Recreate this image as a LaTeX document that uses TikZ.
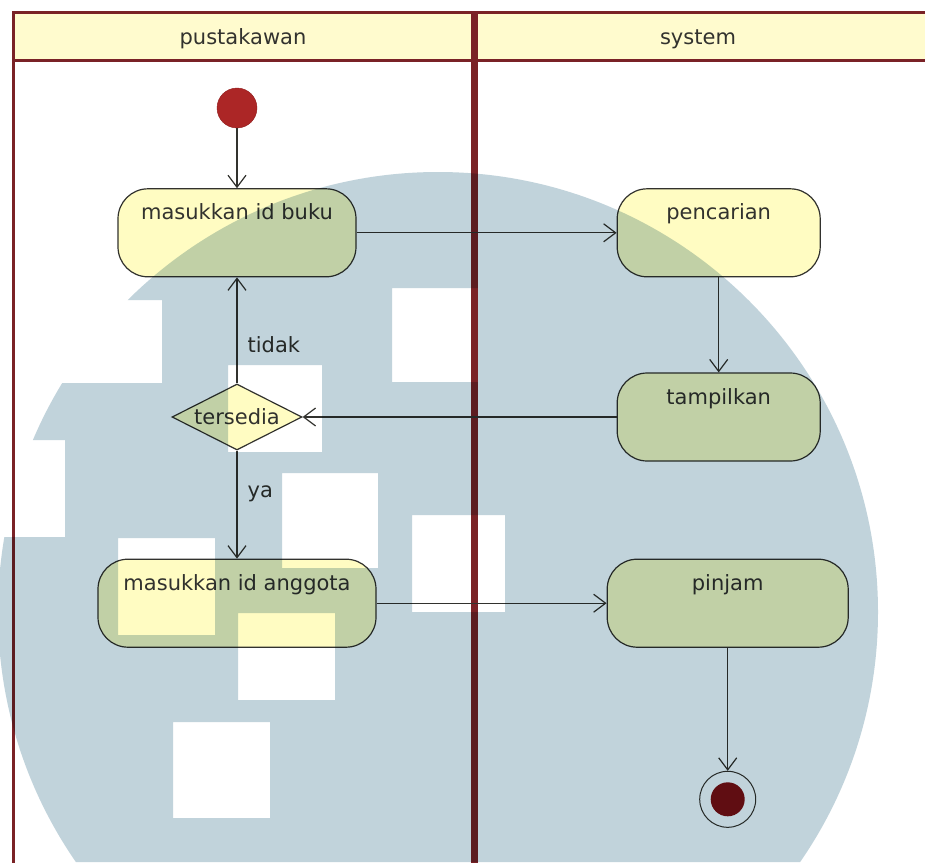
\documentclass[tikz,border=0pt]{standalone}
\usepackage{fontspec}
\setmainfont{DejaVu Sans}
\usetikzlibrary{positioning, arrows.meta, shapes.geometric}
\definecolor{lanered}{RGB}{122, 34, 38}
\definecolor{headfill}{RGB}{255, 251, 206}
\definecolor{actfill}{RGB}{255, 252, 194}
\definecolor{edgegrey}{RGB}{50, 50, 46}
\definecolor{startred}{RGB}{172, 38, 38}
\definecolor{endred}{RGB}{128, 16, 22}
\definecolor{markblue}{RGB}{193, 211, 219}

\begin{document}
\begin{tikzpicture}[x=1pt, y=-1pt,
      lane/.style={draw=lanered, line width=3pt},
      head/.style={font=\fontsize{21}{25}\selectfont, text=edgegrey},
      action/.style={draw=edgegrey, line width=1.2pt, fill=actfill, rounded corners=30pt,
                     minimum height=88pt, text height=17pt, text depth=43pt, inner ysep=14pt,
                     font=\fontsize{21}{25}\selectfont, text=edgegrey},
      decision/.style={diamond, draw=edgegrey, line width=1.2pt, fill=actfill, aspect=2,
                       minimum width=130pt, minimum height=66pt, inner sep=0pt,
                       font=\fontsize{21}{25}\selectfont, text=edgegrey},
      initnode/.style={circle, fill=startred, draw=startred!85!black, minimum size=40pt, inner sep=0pt},
      endring/.style={circle, draw=edgegrey, line width=1pt, fill=white, minimum size=56pt, inner sep=0pt},
      guard/.style={anchor=west, inner sep=0pt, xshift=10pt, font=\fontsize{21}{25}\selectfont, text=edgegrey},
      flow/.style={-{Straight Barb[length=12pt, width=18pt]}, line width=1.2pt, draw=edgegrey}]
    \useasboundingbox (0,0) rectangle (925,862);
    \clip (0,0) rectangle (925,862);

    \fill[white] (0,0) rectangle (925,862);
    \draw[lane, fill=headfill] (13,12) rectangle (935,60);
    \draw[lane] (13,60) -- (13,880);
    \draw[draw=lanered, line width=7pt] (474,12) -- (474,880);
    \node[head] (lanea) at (243,39) {pustakawan};
    \node[head] (laneb) at (698,39) {system};

    \node[initnode] (start) at (237,108) {};
    \node[action, minimum width=238pt, below=60pt of start] (buku) {masukkan id buku};
    \node[decision, below=106pt of buku] (tersedia) {tersedia};
    \node[action, minimum width=278pt, below=108pt of tersedia] (anggota) {masukkan id anggota};
    \node[action, minimum width=203pt, right=260pt of buku] (pencarian) {pencarian};
    \node[action, minimum width=203pt, below=95pt of pencarian] (tampilkan) {tampilkan};
    \node[action, minimum width=241pt, right=230pt of anggota] (pinjam) {pinjam};
    \node[endring, below=123pt of pinjam] (fin) {};
    \fill[endred] (fin) circle (17pt);

    \draw[flow] (start) -- (buku);
    \draw[flow] (buku) -- (pencarian);
    \draw[flow] (pencarian) -- (tampilkan);
    \draw[flow] (tampilkan) -- (tersedia);
    \draw[flow] (tersedia) -- node[guard, pos=.37] {tidak} (buku);
    \draw[flow] (tersedia) -- node[guard, pos=.4] {ya} (anggota);
    \draw[flow] (anggota) -- (pinjam);
    \draw[flow] (pinjam) -- (fin);

    \begin{scope}[blend mode=multiply]
      \clip (438,612) circle (440pt);
      \fill[markblue, even odd rule] (0,0) rectangle (925,862)
        (40,300) rectangle (162,383)  (0,440) rectangle (65,537)
        (228,365) rectangle (322,452) (392,288) rectangle (478,382)
        (282,473) rectangle (378,568) (412,515) rectangle (505,612)
        (118,538) rectangle (215,635) (238,613) rectangle (335,700)
        (173,722) rectangle (270,818);
    \end{scope}
  \end{tikzpicture}
\end{document}
